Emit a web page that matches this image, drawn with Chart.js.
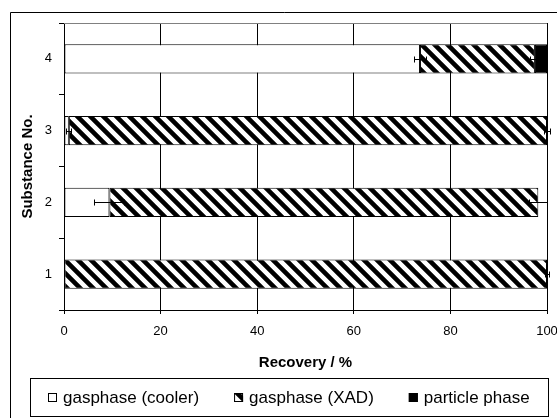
<!DOCTYPE html>
<html lang="en">
<head>
    <meta charset="UTF-8">
    <title>Recovery per substance</title>
    <script src="https://cdn.jsdelivr.net/npm/chart.js"></script>
    <style>
        body { margin: 0; background: #fff; }
    </style>
</head>
<body>
    <canvas id="recoveryChart" width="557" height="418"></canvas>

<script>
    // data
    const substances = ['1', '2', '3', '4'];
    const coolerValues = [0, 9.4, 1.0, 73.7];
    const xadValues = [100, 88.8, 99.0, 23.8];
    const particleValues = [0, 0, 0, 2.5];
    const coolerErrors = [0, 3.1, 0.5, 1.3];
    const xadErrors = [0.5, 1.9, 0.6, 1.0];
    const xTicks = [0, 20, 40, 60, 80, 100];

    const FONT = '"Liberation Sans", Arial, sans-serif';

    // diagonal hatch used for the XAD part
    function makeHatch() {
        const size = 13;
        const c = document.createElement('canvas');
        c.width = size; c.height = size;
        const g = c.getContext('2d');
        g.fillStyle = '#fff';
        g.fillRect(0, 0, size, size);
        g.strokeStyle = '#000';
        g.lineWidth = 4.6;
        g.beginPath();
        for (let k = -size; k <= size; k += size) {
            g.moveTo(k - 3, -3);
            g.lineTo(k + size + 3, size + 3);
        }
        g.stroke();
        return g.createPattern(c, 'repeat');
    }

    const ctx = document.getElementById('recoveryChart').getContext('2d');
    const hatch = makeHatch();

    // white page, outer frame and the top line of the plot
    const framePlugin = {
        id: 'frame',
        beforeDraw(chart) {
            const c = chart.ctx;
            c.save();
            c.fillStyle = '#fff';
            c.fillRect(0, 0, chart.width, chart.height);
            c.restore();
        },
        afterDraw(chart) {
            const c = chart.ctx;
            const a = chart.chartArea;
            c.save();
            c.strokeStyle = '#000';
            c.lineWidth = 1;
            c.beginPath();
            c.moveTo(10.5, chart.height + 2);
            c.lineTo(10.5, 12.5);
            c.lineTo(chart.width + 2, 12.5);
            c.stroke();
            c.strokeStyle = '#808080';
            c.beginPath();
            c.moveTo(a.left, Math.round(a.top) + 0.5);
            c.lineTo(a.right, Math.round(a.top) + 0.5);
            c.stroke();
            c.restore();
        }
    };

    // horizontal error bars at the end of cooler and XAD parts
    const errorBarPlugin = {
        id: 'errorBars',
        afterDatasetsDraw(chart) {
            const xs = chart.scales.x;
            const ys = chart.scales.y;
            const c = chart.ctx;
            c.save();
            c.strokeStyle = '#000';
            c.lineWidth = 1;
            function bar(v, e, yc) {
                if (!e) return;
                const x0 = Math.round(xs.getPixelForValue(v - e)) + 0.5;
                const x1 = Math.round(xs.getPixelForValue(v + e)) + 0.5;
                const y = Math.round(yc) + 0.5;
                c.beginPath();
                c.moveTo(x0, y); c.lineTo(x1, y);
                c.moveTo(x0, y - 3); c.lineTo(x0, y + 3);
                c.moveTo(x1, y - 3); c.lineTo(x1, y + 3);
                c.stroke();
            }
            substances.forEach((s, i) => {
                const yc = ys.getPixelForValue(i);
                bar(coolerValues[i], coolerErrors[i], yc);
                bar(coolerValues[i] + xadValues[i], xadErrors[i], yc);
            });
            c.restore();
        }
    };

    // boxed legend under the axis title
    const legendPlugin = {
        id: 'boxLegend',
        afterDraw(chart) {
            const c = chart.ctx;
            c.save();
            c.strokeStyle = '#000';
            c.lineWidth = 1;
            c.strokeRect(30.5, 378.5, 518, 38);
            c.font = '17px ' + FONT;
            c.textBaseline = 'middle';
            const items = chart.data.datasets.map(ds => ({
                text: ds.label,
                fill: ds.backgroundColor,
                w: 15 + c.measureText(ds.label).width
            }));
            const gap = 35;
            const total = items.reduce((s, it) => s + it.w, 0) + gap * (items.length - 1);
            let x = Math.round(289 - total / 2);
            items.forEach(it => {
                c.fillStyle = it.fill;
                c.fillRect(x, 393, 9, 9);
                c.strokeRect(x + 0.5, 393.5, 8, 8);
                c.fillStyle = '#000';
                c.fillText(it.text, x + 15, 398);
                x += it.w + gap;
            });
            c.restore();
        }
    };

    new Chart(ctx, {
        type: 'bar',
        data: {
            labels: substances,
            datasets: [
                {
                    label: 'gasphase (cooler)',
                    data: coolerValues,
                    backgroundColor: '#fff',
                    borderColor: '#000',
                    borderWidth: 1
                },
                {
                    label: 'gasphase (XAD)',
                    data: xadValues,
                    backgroundColor: hatch,
                    borderColor: '#000',
                    borderWidth: 1
                },
                {
                    label: 'particle phase',
                    data: particleValues,
                    backgroundColor: '#000',
                    borderColor: '#000',
                    borderWidth: 1
                }
            ]
        },
        options: {
            indexAxis: 'y',
            responsive: false,
            animation: false,
            layout: { padding: { top: 23, left: 10, right: 10, bottom: 46 } },
            datasets: {
                bar: { categoryPercentage: 1, barPercentage: 0.41, borderSkipped: false }
            },
            plugins: {
                legend: { display: false },
                tooltip: { enabled: false }
            },
            scales: {
                x: {
                    stacked: true,
                    min: 0,
                    max: 100,
                    afterBuildTicks: scale => { scale.ticks = xTicks.map(v => ({ value: v })); },
                    // let the "100" run off the edge like the original
                    afterFit: scale => { scale.paddingRight = 0; scale.height = 62; },
                    grid: { color: '#000', lineWidth: 1, tickLength: 4 },
                    border: { color: '#000', width: 1 },
                    ticks: { color: '#000', padding: 10, maxRotation: 0, font: { family: FONT, size: 13 } },
                    title: {
                        display: true,
                        text: 'Recovery / %',
                        color: '#000',
                        font: { family: FONT, size: 15, weight: 'bold' },
                        padding: { top: 6, bottom: 0 }
                    }
                },
                y: {
                    stacked: true,
                    reverse: true,
                    afterFit: scale => { scale.width = 54; },
                    grid: { drawOnChartArea: false, color: '#000', tickLength: 5 },
                    border: { color: '#000', width: 1 },
                    ticks: { color: '#000', padding: 7, font: { family: FONT, size: 13 } },
                    title: {
                        display: true,
                        text: 'Substance No.',
                        color: '#000',
                        font: { family: FONT, size: 15, weight: 'bold' },
                        padding: { top: 9, bottom: 0 }
                    }
                }
            }
        },
        plugins: [framePlugin, errorBarPlugin, legendPlugin]
    });
</script>
</body>
</html>
